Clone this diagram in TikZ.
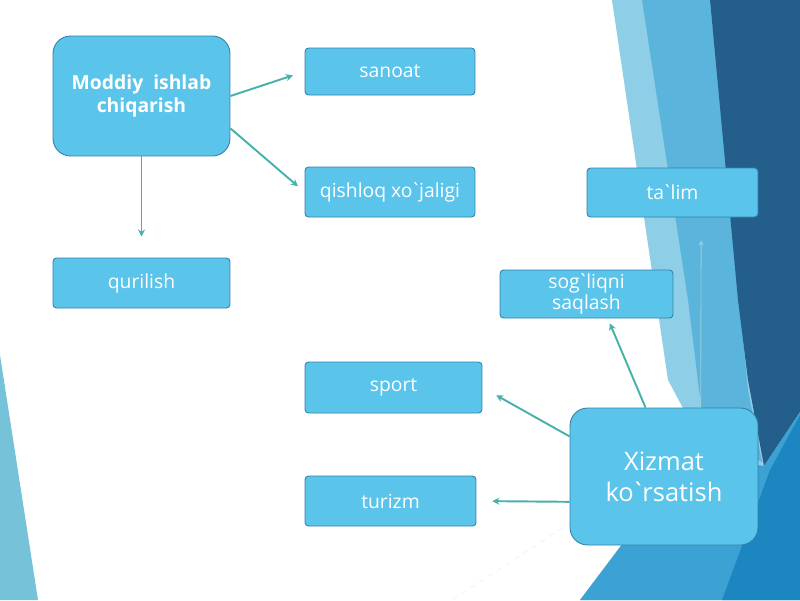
\documentclass[tikz,border=0pt]{standalone}
\usepackage{fontspec}
\setmainfont{Open Sans}
\usetikzlibrary{arrows.meta}
\definecolor{box-fill}{RGB}{91,196,234}
\definecolor{box-line}{RGB}{52,128,170}
\definecolor{arr-teal}{RGB}{70,178,168}
\definecolor{arr-pale}{RGB}{150,205,222}
\definecolor{bg-pale}{RGB}{142,206,230}
\definecolor{bg-band}{RGB}{90,180,219}
\definecolor{bg-dark}{RGB}{36,95,140}
\definecolor{bg-mid}{RGB}{59,162,211}
\definecolor{bg-deep}{RGB}{27,134,191}
\definecolor{bg-left}{RGB}{118,195,217}
\newcommand{\tck}{\kern-0.12em\textasciigrave\kern-0.12em}

\begin{document}
\begin{tikzpicture}[x=0.02cm, y=-0.02cm,
    box/.style={rectangle, rounded corners=2pt, fill=box-fill, draw=box-line,
                line width=0.5pt, inner sep=1pt, align=center, text=white,
                font=\fontsize{11}{11}\selectfont},
    bigbox/.style={box, rounded corners=10pt},
    arr/.style={-{Stealth[length=4pt, width=4pt]}, line width=1.1pt, color=arr-teal},
    thinarr/.style={-{Stealth[length=3pt, width=3pt]}, line width=0.5pt, color=arr-pale}
  ]
    \useasboundingbox (0,0) rectangle (800,600);
    \fill[white] (0,0) rectangle (800,600);

    % background facets
    \fill[bg-pale] (612,0) -- (800,0) -- (800,600) -- (580,600) -- (700,440) -- (668,380) -- cycle;
    \fill[bg-band] (642,0) -- (710,0) -- (748,390) -- (762,462) -- (704,430) -- (688,300) -- cycle;
    \fill[bg-dark] (710,0) -- (800,0) -- (800,412) -- (764,466) -- (748,380) -- (738,300) -- cycle;
    \fill[bg-mid]  (800,412) -- (800,600) -- (580,600) -- (690,455) -- (764,466) -- cycle;
    \fill[bg-deep] (800,415) -- (800,600) -- (722,600) -- (770,470) -- cycle;
    \fill[bg-left] (0,355) -- (0,600) -- (38,600) -- cycle;
    \draw[white!85!bg-pale, dashed, line width=0.6pt] (572,522) -- (452,600);

    \node[bigbox, minimum width=3.54cm, minimum height=2.4cm,
          font=\fontsize{11}{13}\selectfont\bfseries] (modd) at (141.5,96) {Moddiy\ \ ishlab\\chiqarish};
    \node[box, minimum width=3.4cm,  minimum height=0.94cm] (san) at (390,71.5)  {sanoat};
    \node[box, minimum width=3.4cm,  minimum height=1cm]    (qis) at (390,192)   {qishloq xo\tck jaligi};
    \node[box, minimum width=3.54cm, minimum height=1cm]    (qur) at (141.5,283) {qurilish};
    \node[box, minimum width=3.42cm, minimum height=0.98cm] (tal) at (672.5,192.5) {ta\tck lim};
    \node[box, minimum width=3.46cm, minimum height=0.96cm,
          font=\fontsize{11}{10.5}\selectfont] (sog) at (586.5,294) {sog\tck liqni\\saqlash};
    \node[box, minimum width=3.54cm, minimum height=1.02cm] (spo) at (393.5,387.5) {sport};
    \node[box, minimum width=3.42cm, minimum height=1cm]    (tur) at (390.5,501) {turizm};
    \node[bigbox, minimum width=3.76cm, minimum height=2.74cm,
          font=\fontsize{14.5}{17.5}\selectfont] (xiz) at (664,476.5) {Xizmat\\ko\tck rsatish};

    \draw[arr, shorten >=7pt]  (modd.east) -- (san.west);
    \draw[arr, shorten >=5pt]  (modd.-20) -- (qis.west);
    \draw[arr, shorten >=12pt] (modd.south) -- (qur.north);
    \draw[arr, shorten >=9pt]  (xiz.157) -- (spo.east);
    \draw[arr, shorten >=9pt]  (xiz.195) -- (tur.east);
    \draw[arr, shorten >=3pt]  (xiz.105) -- (sog.-49);
    \draw[thinarr, shorten >=13pt] (xiz.62) -- (tal.-41);
  \end{tikzpicture}
\end{document}
